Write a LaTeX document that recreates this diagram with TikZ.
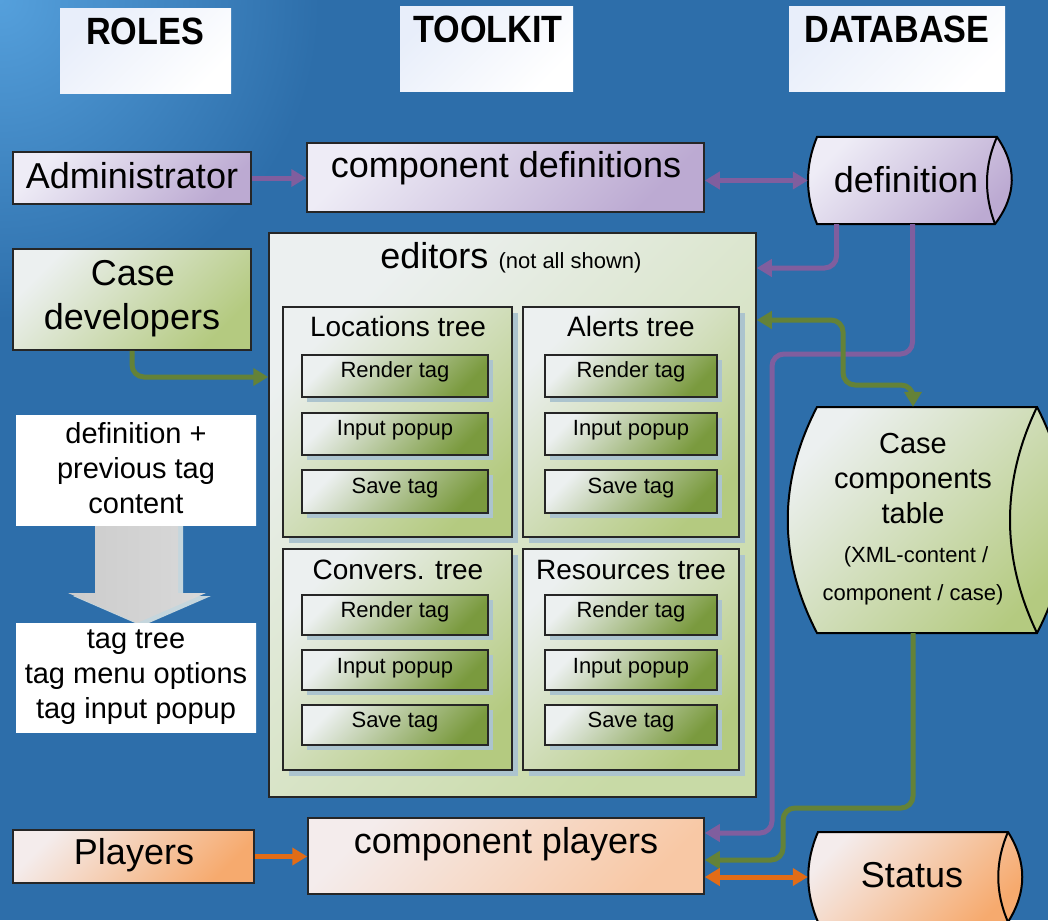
\documentclass[tikz,border=0pt]{standalone}
\usepackage{fontspec}
\setmainfont{Liberation Sans}
\usetikzlibrary{arrows.meta,fit,shadows,calc}
\definecolor{bg}{RGB}{45,110,170}
\definecolor{bglight}{RGB}{85,160,220}
\definecolor{purpL}{RGB}{238,236,246}
\definecolor{purpD}{RGB}{188,170,210}
\definecolor{purpLine}{RGB}{128,94,158}
\definecolor{grnL}{RGB}{236,240,240}
\definecolor{grnD}{RGB}{180,202,128}
\definecolor{grnM}{RGB}{205,220,170}
\definecolor{edD}{RGB}{200,218,166}
\definecolor{btnM}{RGB}{142,170,84}
\definecolor{btnD}{RGB}{122,154,62}
\definecolor{grnLine}{RGB}{100,130,56}
\definecolor{orgL}{RGB}{244,236,236}
\definecolor{orgD}{RGB}{246,170,110}
\definecolor{orgM}{RGB}{248,200,165}
\definecolor{orgLine}{RGB}{226,108,22}
\definecolor{shad}{RGB}{172,196,206}
\definecolor{hdrL}{RGB}{232,238,250}
\tikzset{
  fnt/.style={font=\fontsize{#1}{#1}\selectfont},
  box/.style={draw=black!85, line width=1.5pt, inner sep=0pt},
  purpbox/.style={box, left color=purpL, right color=purpD, shading angle=45},
  grnbox/.style={box, left color=grnL, middle color=grnM, right color=grnD, shading angle=45},
  edbox/.style={box, left color=grnL, middle color=edD, right color=edD, shading angle=45},
  trbox/.style={box, left color=grnL, middle color=grnM, right color=grnD, shading angle=45,
     general shadow={fill=shad, shadow xshift=6pt, shadow yshift=-6pt}},
  btn/.style={box, left color=grnL, middle color=btnM, right color=btnD, shading angle=45,
     general shadow={fill=shad, shadow xshift=5pt, shadow yshift=-5pt}},
  orgbox/.style={box, left color=orgL, middle color=orgD!80!white, right color=orgD, shading angle=45},
  orgbox2/.style={box, left color=orgL, right color=orgM, shading angle=45},
  hdr/.style={inner sep=0pt, left color=hdrL, right color=white, shading angle=45},
  wbox/.style={inner sep=0pt, left color=white, right color=white},
  cylholder/.style={inner sep=0pt},
  cylline/.style={draw=black, line width=2pt},
  lbl/.style={anchor=base, fnt=36},
  conn/.style={line width=5pt, rounded corners=12pt},
  >={Triangle[length=15pt,width=17pt]}
}
\begin{document}
\begin{tikzpicture}[x=1pt,y=-1pt]
\useasboundingbox (0,0) rectangle (1048,920);
\fill[bg] (0,0) rectangle (1048,920);
\begin{scope}
\clip (0,0) rectangle (1048,920);
\shade[inner color=bglight, outer color=bg] (0,0) circle (320);
\end{scope}

% headers
\node[hdr, fit={(60,9)(231,94)}] (hroles) {};
\node[anchor=base, font=\fontsize{38}{40}\selectfont\bfseries] (troles) at (145,45) {\scalebox{0.9}[1]{ROLES}};
\node[hdr, fit={(400,7)(573,92)}] (htool) {};
\node[anchor=base, font=\fontsize{38}{40}\selectfont\bfseries] (ttool) at (488,43) {\scalebox{0.9}[1]{TOOLKIT}};
\node[hdr, fit={(789,7)(1005,92)}] (hdb) {};
\node[anchor=base, font=\fontsize{38}{40}\selectfont\bfseries] (tdb) at (897,43) {\scalebox{0.9}[1]{DATABASE}};

% big block arrow
\fill[shad!70!white, shift={(5,3)}] (95,520) -- (178,520) -- (178,593) -- (206,593) -- (137,623) -- (68,593) -- (95,593) -- cycle;
\shade[left color=gray!40, middle color=white, right color=gray!30] (95,520) -- (178,520) -- (178,593) -- (206,593) -- (137,623) -- (68,593) -- (95,593) -- cycle;

% left column
\node[purpbox, fit={(13,152)(251,204)}] (admin) {};
\node[lbl] (tadmin) at (132,189) {Administrator};
\node[grnbox, fit={(13,249)(251,350)}] (casedev) {};
\node[lbl] (tcase1) at (133,285) {Case};
\node[lbl] (tcase2) at (132,329) {developers};
\node[wbox, fit={(16,415)(256,525)}] (defprev) {};
\node[anchor=base, fnt=29] (tdefprev) at (136,443) {definition +};
\node[anchor=base, fnt=29] (tdefprev2) at (136,478) {previous tag};
\node[anchor=base, fnt=29] (tdefprev3) at (136,513) {content};
\node[wbox, fit={(16,623)(256,732)}] (tagtree) {};
\node[anchor=base, fnt=29] (ttag1) at (136,648) {tag tree};
\node[anchor=base, fnt=29] (ttag2) at (136,683) {tag menu options};
\node[anchor=base, fnt=29] (ttag3) at (136,718) {tag input popup};
\node[orgbox, fit={(13,830)(254,883)}] (players) {};
\node[lbl] (tplayers) at (134,864) {Players};

% toolkit column
\node[purpbox, fit={(307,143)(704,212)}] (compdef) {};
\node[lbl] (tcompdef) at (506,178) {component definitions};
\node[edbox, fit={(269,233)(756,797)}] (editors) {};
\node[anchor=base] (teditors) at (511,268) {\fontsize{36}{40}\selectfont editors \fontsize{22}{26}\selectfont(not all shown)};
\node[trbox, fit={(283,307)(512,537)}] (trloc) {};
\node[anchor=base, fnt=28] (ttrloc) at (398,336) {Locations tree};
\node[trbox, fit={(523,307)(739,537)}] (tralert) {};
\node[anchor=base, fnt=28] (ttralert) at (631,336) {Alerts tree};
\node[trbox, fit={(283,549)(512,770)}] (trconv) {};
\node[anchor=base, fnt=28] (ttrconv) at (398,579) {Convers. tree};
\node[trbox, fit={(523,549)(739,770)}] (trres) {};
\node[anchor=base, fnt=28] (ttrres) at (631,579) {Resources tree};
\foreach \tr/\xa/\xb/\xc in {a/302/488/395, b/545/717/631} {
  \foreach \k/\ya/\yb/\yt/\txt in {1/355/397/377/Render tag, 2/413/455/435/Input popup, 3/470/513/493/Save tag,
     4/595/635/617/Render tag, 5/650/690/673/Input popup, 6/705/745/727/Save tag} {
    \node[btn, fit={(\xa,\ya)(\xb,\yb)}] (btn\tr\k) {};
    \node[anchor=base, fnt=22] (lbl\tr\k) at (\xc,\yt) {\txt};
  }
}
\node[orgbox2, fit={(308,818)(704,894)}] (compplay) {};
\node[lbl] (tcompplay) at (506,853) {component players};

% database column: cylinders (left bulge, visible right cap)
% definition: x 808..1013, y 137..224
\shade[cylline, left color=purpL, right color=purpD, shading angle=45]
  (817,137) -- (997,137) .. controls (1017,166) and (1017,195) .. (995,224)
  -- (817,224) .. controls (805,195) and (805,166) .. (817,137) -- cycle;
\draw[cylline] (997,137) .. controls (984,166) and (984,195) .. (995,224);
\node[cylholder, fit={(808,137)(1013,224)}] (defdb) {};
\node[lbl] (tdefdb) at (906,193) {definition};
% case components table: x 788..1066, y 407..633
\shade[cylline, left color=grnL, middle color=grnM, right color=grnD, shading angle=45]
  (817,407) -- (1037,407) .. controls (1076,482) and (1076,558) .. (1037,633)
  -- (817,633) .. controls (778,558) and (778,482) .. (817,407) -- cycle;
\draw[cylline] (1037,407) .. controls (1001,482) and (1001,558) .. (1037,633);
\node[cylholder, fit={(788,407)(1066,633)}] (casetab) {};
\node[anchor=base, fnt=29] (tct1) at (913,453) {Case};
\node[anchor=base, fnt=29] (tct2) at (913,488) {components};
\node[anchor=base, fnt=29] (tct3) at (913,523) {table};
\node[anchor=base, fnt=22] (tct4) at (916,562) {(XML-content /};
\node[anchor=base, fnt=22] (tct5) at (913,600) {component / case)};
% status: x 808..1022, y 832..922
\shade[cylline, left color=orgL, middle color=orgD!80!white, right color=orgD, shading angle=45]
  (818,832) -- (1008,832) .. controls (1027,862) and (1027,892) .. (1008,922)
  -- (818,922) .. controls (805,892) and (805,862) .. (818,832) -- cycle;
\draw[cylline] (1008,832) .. controls (995,862) and (995,892) .. (1008,922);
\node[cylholder, fit={(808,832)(1022,922)}] (status) {};
\node[lbl] (tstatus) at (912,887) {Status};

% connectors
\draw[conn, purpLine, ->] (admin.east) -- (compdef.west |- admin.east);
\draw[conn, purpLine, <->] (compdef.east |- defdb.west) -- (defdb.west);
\draw[conn, purpLine, ->] ([xshift=-74pt]defdb.south) |- (editors.east |- 0,268);
\draw[conn, purpLine, ->] ([xshift=2pt]defdb.south) |- (772,354) -- (772,833) -- (compplay.east |- 0,833);
\draw[conn, grnLine, ->] (casedev.south) |- (editors.west |- 0,377);
\draw[conn, grnLine, <->] (editors.east |- 0,320) -| (843,385) -| ([xshift=-14pt]casetab.north);
\draw[conn, grnLine, ->] ([xshift=-14pt]casetab.south) |- (783,808) |- (compplay.east |- 0,860);
\draw[conn, orgLine, ->] (players.east) -- (compplay.west |- players.east);
\draw[conn, orgLine, <->] (compplay.east |- status.west) -- (status.west);
\end{tikzpicture}
\end{document}
